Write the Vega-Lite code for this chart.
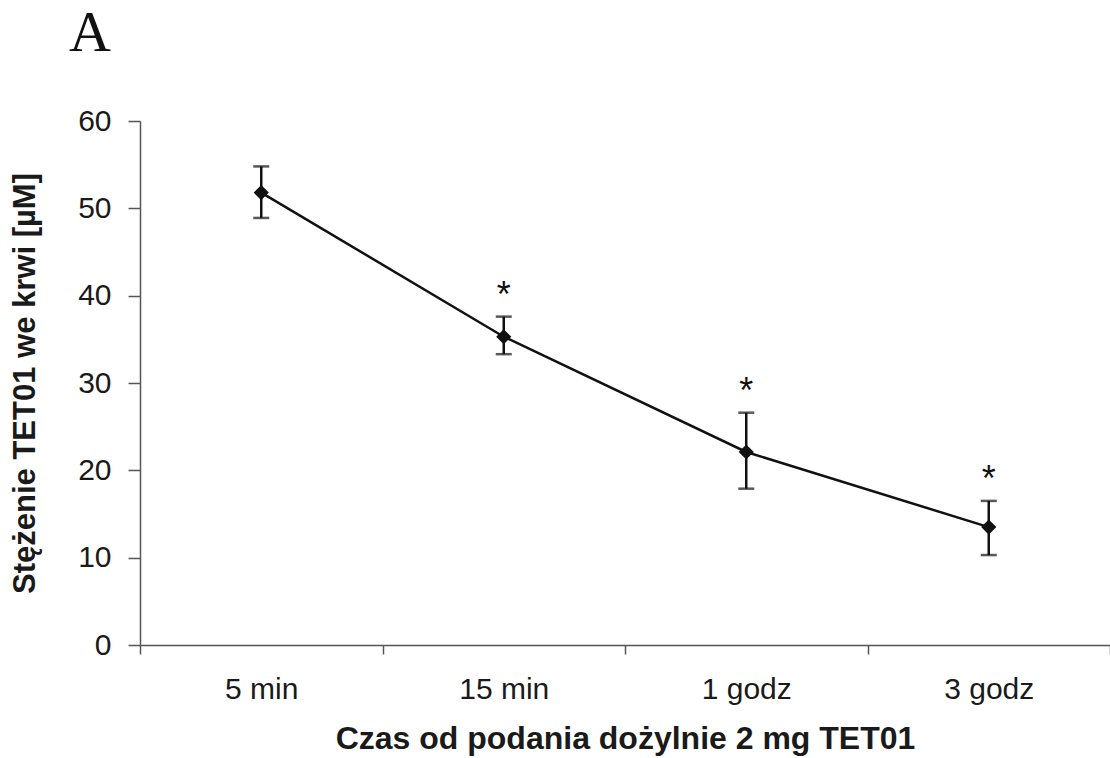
{
  "$schema": "https://vega.github.io/schema/vega-lite/v6.json",
  "width": 970,
  "height": 524,
  "autosize": {"type": "none"},
  "padding": {"left": 140, "top": 121, "right": 0, "bottom": 113},
  "background": "white",
  "title": {
    "text": "A",
    "font": "Liberation Serif",
    "fontSize": 58,
    "fontWeight": "normal",
    "color": "#111111",
    "anchor": "start",
    "frame": "group",
    "baseline": "bottom",
    "offset": -15,
    "dx": -71
  },
  "config": {
    "view": {"stroke": null},
    "axis": {
      "labelFont": "Liberation Sans",
      "titleFont": "Liberation Sans",
      "labelColor": "#1a1a1a",
      "titleColor": "#1a1a1a",
      "domainColor": "#555555",
      "tickColor": "#555555",
      "domainWidth": 1.5,
      "tickWidth": 1.5,
      "grid": false
    }
  },
  "data": {
    "values": [
      {"czas": "5 min", "srednia": 51.8, "min": 48.9, "max": 54.8, "istotnosc": ""},
      {"czas": "15 min", "srednia": 35.3, "min": 33.3, "max": 37.6, "istotnosc": "*"},
      {"czas": "1 godz", "srednia": 22.1, "min": 17.9, "max": 26.6, "istotnosc": "*"},
      {"czas": "3 godz", "srednia": 13.5, "min": 10.3, "max": 16.5, "istotnosc": "*"}
    ]
  },
  "encoding": {
    "x": {
      "field": "czas",
      "type": "nominal",
      "sort": null,
      "scale": {"type": "band", "paddingInner": 0, "paddingOuter": 0},
      "axis": {
        "title": "Czas od podania dożylnie 2 mg TET01",
        "titleFontSize": 32,
        "titleFontWeight": "bold",
        "titlePadding": 19,
        "labelFontSize": 30,
        "labelAngle": 0,
        "labelPadding": 20,
        "tickSize": 9,
        "tickBand": "extent"
      }
    }
  },
  "layer": [
    {
      "mark": {"type": "line", "color": "#111111", "strokeWidth": 2.5},
      "encoding": {
        "y": {
          "field": "srednia",
          "type": "quantitative",
          "scale": {"domain": [0, 60], "nice": false},
          "axis": {
            "title": "Stężenie TET01 we krwi [µM]",
            "titleFontSize": 31,
            "titleFontWeight": "bold",
            "titlePadding": 36,
            "labelFontSize": 30,
            "labelPadding": 17,
            "tickSize": 12,
            "values": [0, 10, 20, 30, 40, 50, 60]
          }
        }
      }
    },
    {
      "mark": {"type": "rule", "color": "#111111", "strokeWidth": 2.5},
      "encoding": {
        "y": {"field": "min", "type": "quantitative"},
        "y2": {"field": "max"}
      }
    },
    {
      "mark": {"type": "tick", "color": "#111111", "size": 16, "thickness": 2.5, "orient": "horizontal"},
      "encoding": {"y": {"field": "min", "type": "quantitative"}}
    },
    {
      "mark": {"type": "tick", "color": "#111111", "size": 16, "thickness": 2.5, "orient": "horizontal"},
      "encoding": {"y": {"field": "max", "type": "quantitative"}}
    },
    {
      "mark": {"type": "point", "shape": "diamond", "filled": true, "color": "#111111", "size": 230, "opacity": 1},
      "encoding": {"y": {"field": "srednia", "type": "quantitative"}}
    },
    {
      "mark": {"type": "text", "font": "Liberation Sans", "fontSize": 36, "color": "#111111", "baseline": "alphabetic", "dy": -10},
      "encoding": {
        "y": {"field": "max", "type": "quantitative"},
        "text": {"field": "istotnosc"}
      }
    }
  ]
}
